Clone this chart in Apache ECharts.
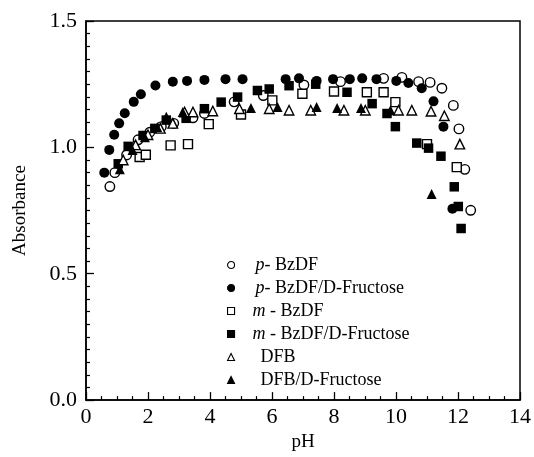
<!DOCTYPE html>
<html>
<head>
<meta charset="utf-8">
<script src="https://cdn.jsdelivr.net/npm/echarts@6/dist/echarts.min.js"></script>
<style>html,body{margin:0;padding:0;background:#fff;}#c{width:534px;height:457px;}</style>
</head>
<body>
<div id="c"></div>
<script>
// Data: [pH, Absorbance]
const seriesNames = ['p- BzDF', 'p- BzDF/D-Fructose', 'm - BzDF', 'm - BzDF/D-Fructose', 'DFB', 'DFB/D-Fructose'];

const pBzDF = [[0.77,0.845],[0.93,0.90],[1.31,0.97],[1.68,1.03],[2.06,1.06],[2.43,1.082],[2.83,1.095],[3.45,1.117],[3.82,1.134],[4.78,1.18],[5.72,1.205],[7.03,1.247],[8.21,1.26],[9.60,1.273],[10.19,1.277],[10.73,1.26],[11.10,1.257],[11.48,1.234],[11.85,1.166],[12.03,1.073],[12.22,0.913],[12.41,0.751]];

const pBzDFFru = [[0.59,0.90],[0.75,0.99],[0.91,1.05],[1.07,1.095],[1.25,1.135],[1.54,1.18],[1.77,1.21],[2.24,1.245],[2.80,1.26],[3.26,1.263],[3.82,1.267],[4.50,1.27],[5.05,1.27],[6.44,1.27],[6.87,1.273],[7.44,1.263],[7.97,1.27],[8.51,1.27],[8.91,1.273],[9.37,1.27],[10.01,1.263],[10.40,1.255],[10.83,1.234],[11.21,1.182],[11.53,1.082],[11.82,0.757]];

const mBzDF = [[1.73,0.962],[1.93,0.971],[2.73,1.008],[3.29,1.013],[3.96,1.092],[5.0,1.13],[6.01,1.186],[6.98,1.212],[8.0,1.221],[9.06,1.218],[9.6,1.218],[9.98,1.179],[11.0,1.013],[11.96,0.922]];

const mBzDFFru = [[1.04,0.935],[1.36,1.004],[1.84,1.047],[2.22,1.075],[2.59,1.108],[3.23,1.115],[3.82,1.153],[4.36,1.179],[4.89,1.199],[5.53,1.225],[5.91,1.231],[6.55,1.244],[7.41,1.25],[8.42,1.218],[9.23,1.173],[9.71,1.134],[9.98,1.082],[10.67,1.017],[11.05,0.997],[11.45,0.965],[11.88,0.844],[12.01,0.766],[12.10,0.679]];

const dfb = [[1.2,0.95],[1.6,1.01],[2.0,1.05],[2.4,1.075],[2.8,1.095],[3.18,1.14],[3.45,1.14],[4.09,1.144],[4.95,1.153],[5.91,1.153],[6.55,1.147],[7.25,1.147],[8.32,1.147],[9.01,1.147],[10.08,1.147],[10.51,1.147],[11.13,1.143],[11.56,1.125],[12.06,1.013]];

const dfbFru = [[1.09,0.913],[1.5,0.99],[1.9,1.04],[2.3,1.08],[2.59,1.121],[3.12,1.14],[5.32,1.156],[6.18,1.16],[7.44,1.16],[8.1,1.156],[8.87,1.156],[9.82,1.147],[11.15,0.815]];

const xTicks = {min: 0, max: 14, interval: 2};
const yTicks = {min: 0, max: 1.5, interval: 0.5};

const FONT = 'Liberation Serif';
const hollow = {color: '#fff', borderColor: '#000', borderWidth: 1.4, opacity: 1};
const solid = {color: '#000', borderColor: '#000', borderWidth: 0, opacity: 1};

function mk(name, data, symbol, style, size) {
  return {
    name: name, type: 'scatter', data: data, symbol: symbol, symbolSize: size,
    itemStyle: style, emphasis: {disabled: true}, animation: false
  };
}

const chart = echarts.init(document.getElementById('c'), null, {renderer: 'canvas'});
chart.setOption({
  backgroundColor: '#fff',
  animation: false,
  grid: {left: 86, right: 12, top: 21, bottom: 51, show: true, borderColor: '#000', borderWidth: 1.5, backgroundColor: 'transparent'},
  xAxis: {
    type: 'value', min: xTicks.min, max: xTicks.max, interval: xTicks.interval,
    name: 'pH', nameLocation: 'middle', nameGap: 31,
    nameTextStyle: {fontFamily: FONT, fontSize: 19, color: '#000'},
    axisLine: {show: true, lineStyle: {color: '#000', width: 1.5}},
    axisTick: {show: true, inside: true, length: 8, lineStyle: {color: '#000', width: 1.3}},
    minorTick: {show: true, splitNumber: 4, length: 4, lineStyle: {color: '#000', width: 1.2}},
    axisLabel: {fontFamily: FONT, fontSize: 22, color: '#000', margin: 6},
    splitLine: {show: false}
  },
  yAxis: {
    type: 'value', min: yTicks.min, max: yTicks.max, interval: yTicks.interval,
    name: 'Absorbance', nameLocation: 'middle', nameGap: 56,
    nameTextStyle: {fontFamily: FONT, fontSize: 19, color: '#000'},
    axisLine: {show: true, lineStyle: {color: '#000', width: 1.5}},
    axisTick: {show: true, inside: true, length: 8, lineStyle: {color: '#000', width: 1.3}},
    minorTick: {show: true, splitNumber: 10, length: 4, lineStyle: {color: '#000', width: 1.2}},
    axisLabel: {fontFamily: FONT, fontSize: 22, color: '#000', margin: 9, formatter: v => v.toFixed(1)},
    splitLine: {show: false}
  },
  legend: {
    orient: 'vertical', left: 222, top: 250,
    itemWidth: 7, itemHeight: 7, itemGap: 3,
    selectedMode: false,
    data: seriesNames,
    itemStyle: {borderWidth: 1.1, opacity: 1},
    textStyle: {
      fontFamily: FONT, fontSize: 18, color: '#000', lineHeight: 20,
      rich: {
        sp: {width: 16, fontFamily: FONT, fontSize: 18, lineHeight: 20},
        sm: {width: 13, fontFamily: FONT, fontSize: 18, lineHeight: 20},
        sd: {width: 21, fontFamily: FONT, fontSize: 18, lineHeight: 20},
        i: {fontStyle: 'italic', fontFamily: FONT, fontSize: 18, lineHeight: 20, color: '#000'},
        t: {fontFamily: FONT, fontSize: 18, lineHeight: 20, color: '#000'}
      }
    },
    formatter: function (name) {
      if (name[0] === 'p') {
        return '{sp|}{i|p}{t|' + name.slice(1) + '}';
      }
      if (name[0] === 'm') {
        return '{sm|}{i|m}{t|' + name.slice(1) + '}';
      }
      return '{sd|}{t|' + name + '}';
    }
  },
  series: [
    mk(seriesNames[0], pBzDF, 'circle', hollow, 9.5),
    mk(seriesNames[1], pBzDFFru, 'circle', solid, 10),
    mk(seriesNames[2], mBzDF, 'rect', hollow, 9),
    mk(seriesNames[3], mBzDFFru, 'rect', solid, 9.5),
    mk(seriesNames[4], dfb, 'triangle', hollow, 9.5),
    mk(seriesNames[5], dfbFru, 'triangle', solid, 10)
  ]
});
</script>
</body>
</html>
